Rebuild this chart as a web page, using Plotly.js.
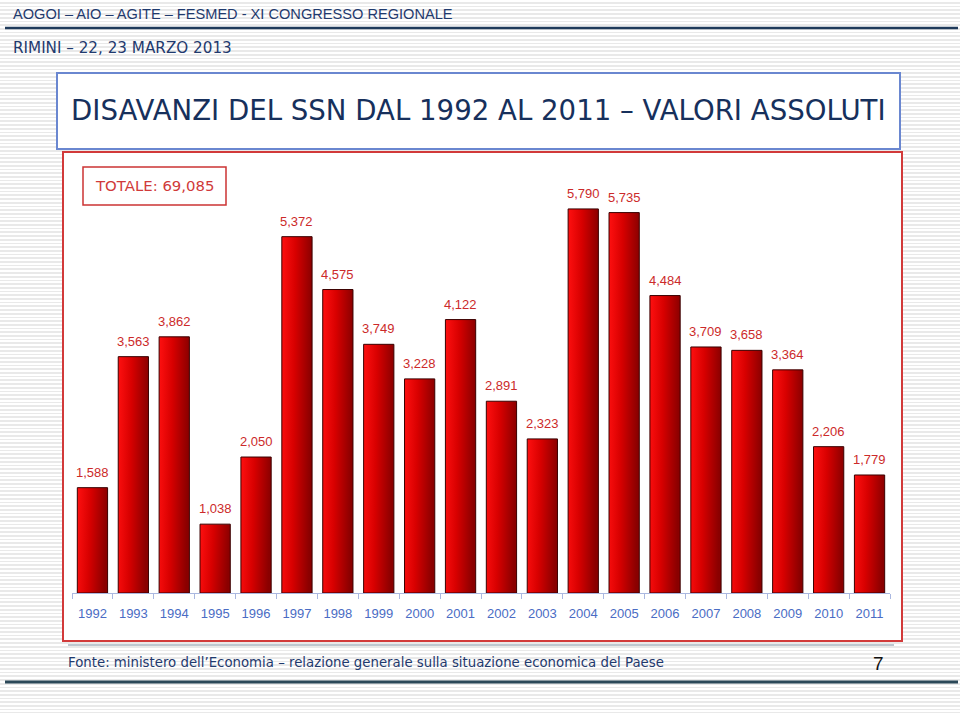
<!DOCTYPE html>
<html>
<head>
<meta charset="utf-8">
<script src="https://cdn.plot.ly/plotly-3.0.1.min.js"></script>
<style>
html,body{margin:0;padding:0;}
body{width:960px;height:713px;overflow:hidden;
background:repeating-linear-gradient(to bottom,#ffffff 0px,#ffffff 2px,#e9e9e9 2px,#e9e9e9 3.7px);}
#chart{width:960px;height:713px;}
</style>
</head>
<body>
<div id="chart"></div>
<script>
const years = ["1992","1993","1994","1995","1996","1997","1998","1999","2000","2001","2002","2003","2004","2005","2006","2007","2008","2009","2010","2011"];
const deficits = [1588,3563,3862,1038,2050,5372,4575,3749,3228,4122,2891,2323,5790,5735,4484,3709,3658,3364,2206,1779];
const valueLabels = ["1,588","3,563","3,862","1,038","2,050","5,372","4,575","3,749","3,228","4,122","2,891","2,323","5,790","5,735","4,484","3,709","3,658","3,364","2,206","1,779"];
const headerText = "AOGOI – AIO – AGITE – FESMED - XI CONGRESSO REGIONALE";
const subHeaderText = "RIMINI – 22, 23 MARZO 2013";
const titleText = "DISAVANZI DEL SSN DAL 1992 AL 2011 – VALORI ASSOLUTI";
const totalText = "TOTALE: 69,085";
const sourceText = "Fonte: ministero dell’Economia – relazione generale sulla situazione economica del Paese";
const pageNumber = "7";

// plot area geometry (pixels)
const L = 72, R = 70, T = 195, B = 120;
const W = 960 - L - R, H = 713 - T - B;
const PX = px => (px - L) / W;
const PY = py => (713 - B - py) / H;

const trace = {
  type: 'bar', x: years, y: deficits,
  marker: {color: '#d00000', line: {color: '#3a0000', width: 1}},
  hoverinfo: 'none'
};

// annotations on category axis use the category index
const valueAnnotations = years.map((yr, i) => ({
  x: i, y: deficits[i], xref: 'x', yref: 'y',
  text: valueLabels[i], showarrow: false,
  yanchor: 'bottom', yshift: 6,
  font: {family: 'Liberation Sans, Arial', size: 13, color: '#cc2a2a'}
}));

const decoAnnotations = [
  {xref:'paper', yref:'paper', x: PX(11), y: PY(14), xanchor:'left', yanchor:'middle', showarrow:false,
   text: headerText, font:{family:'Liberation Sans, Arial', size:14.6, color:'#1f3a6e'}},
  {xref:'paper', yref:'paper', x: PX(11), y: PY(48), xanchor:'left', yanchor:'middle', showarrow:false,
   text: subHeaderText, font:{family:'DejaVu Sans, Verdana', size:15.2, color:'#1f3a6e'}},
  {xref:'paper', yref:'paper', x: PX(69), y: PY(111), xanchor:'left', yanchor:'middle', showarrow:false,
   text: titleText, font:{family:'DejaVu Sans, Verdana', size:27.6, color:'#17305c'}},
  {xref:'paper', yref:'paper', x: PX(154.5), y: PY(186), xanchor:'center', yanchor:'middle', showarrow:false,
   text: totalText, font:{family:'DejaVu Sans, Verdana', size:14.9, color:'#d03a3a'}},
  {xref:'paper', yref:'paper', x: PX(66), y: PY(662), xanchor:'left', yanchor:'middle', showarrow:false,
   text: sourceText, font:{family:'DejaVu Sans, Verdana', size:13.3, color:'#1f3a6e'}},
  {xref:'paper', yref:'paper', x: PX(878), y: PY(663), xanchor:'center', yanchor:'middle', showarrow:false,
   text: pageNumber, font:{family:'Liberation Sans, Arial', size:19, color:'#111111'}}
];

const shapes = [
  {type:'line', xref:'paper', yref:'paper', x0:PX(5), x1:PX(958), y0:PY(28), y1:PY(28), line:{color:'#1e3a5a', width:2.5}, layer:'below'},
  {type:'rect', xref:'paper', yref:'paper', x0:PX(57), x1:PX(900), y0:PY(73), y1:PY(149), fillcolor:'#ffffff', line:{color:'#6a87d0', width:2}, layer:'below'},
  {type:'rect', xref:'paper', yref:'paper', x0:PX(63), x1:PX(902), y0:PY(152), y1:PY(641), fillcolor:'#ffffff', line:{color:'#d23a3a', width:2}, layer:'below'},
  {type:'rect', xref:'paper', yref:'paper', x0:PX(83), x1:PX(226), y0:PY(167), y1:PY(205), fillcolor:'#ffffff', line:{color:'#cc3333', width:1.5}, layer:'below'},
  {type:'line', xref:'paper', yref:'paper', x0:PX(68), x1:PX(894), y0:PY(645), y1:PY(645), line:{color:'#7f8fa0', width:1}, layer:'below'},
  {type:'line', xref:'paper', yref:'paper', x0:PX(5), x1:PX(958), y0:PY(682), y1:PY(682), line:{color:'#2b4858', width:3}, layer:'below'}
];

const layout = {
  width: 960, height: 713,
  margin: {l: L, r: R, t: T, b: B, pad: 0},
  paper_bgcolor: 'rgba(0,0,0,0)', plot_bgcolor: 'rgba(0,0,0,0)',
  showlegend: false,
  bargap: 0.26,
  xaxis: {
    type: 'category', range: [-0.5, years.length - 0.5], autorange: false,
    showgrid: false, zeroline: false,
    showline: true, linecolor: '#aab8e0', linewidth: 1,
    ticks: 'outside', tickson: 'boundaries', ticklen: 5, tickcolor: '#aab8e0',
    ticklabelstandoff: 8, tickangle: 0,
    tickfont: {family: 'Liberation Sans, Arial', size: 13, color: '#4a6cc4'}
  },
  yaxis: {range: [0, 6000], autorange: false, visible: false, fixedrange: true},
  annotations: valueAnnotations.concat(decoAnnotations),
  shapes: shapes
};

Plotly.newPlot('chart', [trace], layout, {displayModeBar: false, staticPlot: true}).then(gd => {
  const svg = gd.querySelector('svg.main-svg');
  const ns = 'http://www.w3.org/2000/svg';
  let defs = svg.querySelector('defs');
  if (!defs) { defs = document.createElementNS(ns, 'defs'); svg.insertBefore(defs, svg.firstChild); }
  const g = document.createElementNS(ns, 'linearGradient');
  g.setAttribute('id', 'barGrad');
  g.setAttribute('x1', '0'); g.setAttribute('y1', '0');
  g.setAttribute('x2', '1'); g.setAttribute('y2', '0.12');
  [['0', '#ff1010'], ['0.45', '#d80000'], ['1', '#8a0000']].forEach(([o, c]) => {
    const s = document.createElementNS(ns, 'stop');
    s.setAttribute('offset', o); s.setAttribute('stop-color', c);
    g.appendChild(s);
  });
  defs.appendChild(g);
  gd.querySelectorAll('.barlayer .point path').forEach(p => { p.style.fill = 'url(#barGrad)'; });
});
</script>
</body>
</html>
